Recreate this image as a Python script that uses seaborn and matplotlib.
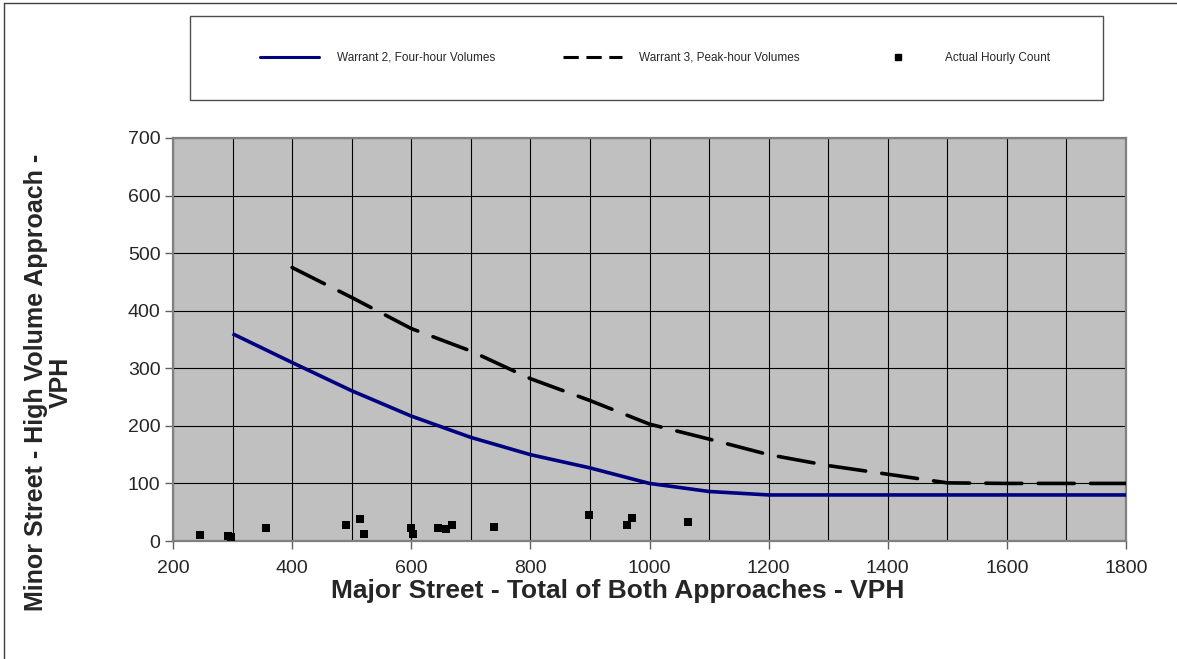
import matplotlib
matplotlib.use("Agg")
import matplotlib.pyplot as plt
from matplotlib.lines import Line2D
from matplotlib.patches import Rectangle
import seaborn as sns

# ---------------- data ----------------
w2_major = [300, 400, 500, 600, 700, 800, 900, 1000, 1100, 1200, 1300, 1400, 1500, 1600, 1700, 1800]
w2_minor = [360, 310, 261, 217, 180, 150, 127, 100, 86, 80, 80, 80, 80, 80, 80, 80]

w3_major = [400, 500, 600, 700, 800, 900, 1000, 1100, 1200, 1300, 1400, 1500, 1600, 1700, 1800]
w3_minor = [475, 423, 369, 330, 282, 244, 203, 177, 150, 131, 116, 101, 100, 100, 100]

count_major = [245, 293, 298, 356, 491, 514, 520, 600, 603, 645, 658, 668, 739, 898, 962, 971, 1065]
count_minor = [10, 8, 7, 23, 28, 39, 13, 23, 12, 23, 21, 27, 24, 46, 28, 40, 33]

legend_labels = ["Warrant 2, Four-hour Volumes", "Warrant 3, Peak-hour Volumes", "Actual Hourly Count"]
x_ticks = list(range(200, 1801, 200))
y_ticks = list(range(0, 701, 100))
x_label = "Major Street - Total of Both Approaches - VPH"
y_label = "Minor Street - High Volume Approach -\nVPH"

# ---------------- style ----------------
sns.set_theme(style="white")
plt.rcParams["font.family"] = ["Liberation Sans", "DejaVu Sans"]

W, H = 1177, 659
fig = plt.figure(figsize=(W / 100, H / 100), dpi=100)
fig.patch.set_facecolor("white")
ax = fig.add_axes([173 / W, 1 - 541 / H, 953 / W, 403 / H])
ax.set_facecolor("#C0C0C0")

sns.lineplot(x=w2_major, y=w2_minor, ax=ax, color="#000080", linewidth=2.6,
             solid_capstyle="butt", sort=False, zorder=3)
sns.lineplot(x=w3_major, y=w3_minor, ax=ax, color="black", linewidth=2.6,
             linestyle=(0, (10, 4.5)), dash_capstyle="round", sort=False, zorder=3)
sns.scatterplot(x=count_major, y=count_minor, ax=ax, marker="s", color="black",
                s=38, linewidth=0, zorder=4)

ax.set_xlim(200, 1800)
ax.set_ylim(0, 700)
ax.set_xticks(x_ticks)
ax.set_xticks(list(range(200, 1801, 100)), minor=True)
ax.set_yticks(y_ticks)
ax.grid(which="both", axis="x", color="black", linewidth=0.8)
ax.grid(which="major", axis="y", color="black", linewidth=0.8)
ax.set_axisbelow(True)

ax.tick_params(axis="x", which="major", direction="out", length=6, width=1,
               color="#606060", labelsize=14, pad=8, bottom=True)
ax.tick_params(axis="x", which="minor", length=0)
ax.tick_params(axis="y", which="major", direction="out", length=6, width=1,
               color="#606060", labelsize=14, pad=3, left=True)
for sp in ax.spines.values():
    sp.set_color("#808080")
    sp.set_linewidth(1.6)
    sp.set_visible(True)

ax.set_xlabel(x_label, fontsize=19, fontweight="bold")
ax.xaxis.label.set_va("center")
ax.xaxis.set_label_coords(0.467, -0.125)
ax.set_ylabel(y_label, fontsize=18, fontweight="bold", multialignment="center",
              linespacing=1.05)
ax.yaxis.label.set_va("center")
ax.yaxis.set_label_coords(-0.131, 0.393)

# ---------------- legend ----------------
handles = [
    Line2D([], [], color="#000080", linewidth=2.2),
    Line2D([], [], color="black", linewidth=2.2, linestyle=(0, (5, 2.5))),
    Line2D([], [], color="black", marker="s", linestyle="none", markersize=4),
]
fig.legend(handles, legend_labels, loc="center", bbox_to_anchor=(655 / W, 1 - 58 / H),
           ncol=3, frameon=False, fontsize=8.5, handlelength=5.0,
           handletextpad=1.45, columnspacing=5.8)
fig.add_artist(Rectangle((190 / W, 1 - 100 / H), 913 / W, 84 / H, transform=fig.transFigure,
                         fill=False, edgecolor="#505050", linewidth=1))

# outer frame (top and left edges)
fig.add_artist(Line2D([4 / W, 4 / W], [0, 1 - 3 / H], transform=fig.transFigure,
                      color="#404040", linewidth=1))
fig.add_artist(Line2D([4 / W, 1], [1 - 3 / H, 1 - 3 / H], transform=fig.transFigure,
                      color="#404040", linewidth=1))

fig.savefig("out.png", dpi=100)
